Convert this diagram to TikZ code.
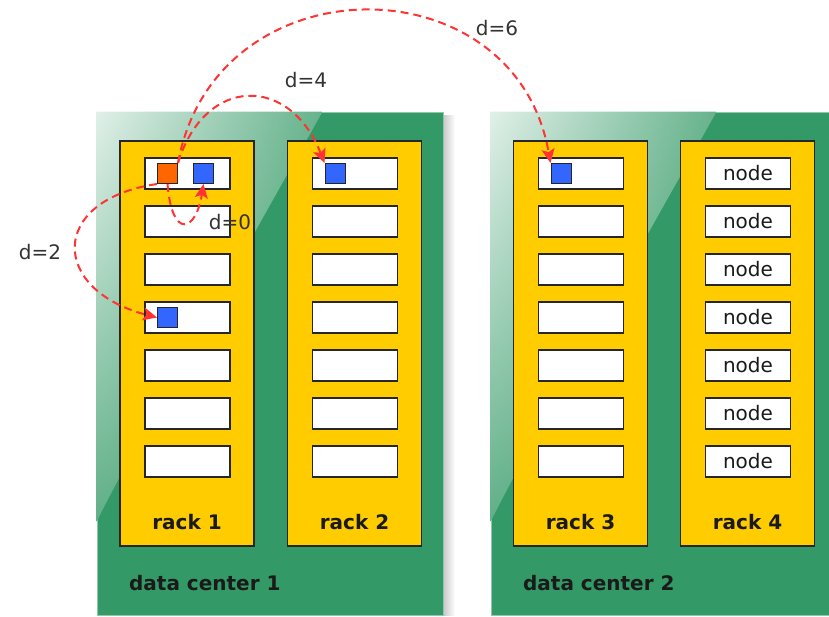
\documentclass[tikz,border=0pt]{standalone}
\usepackage{fontspec}
\setmainfont{DejaVu Sans}
\usetikzlibrary{arrows.meta,shadings}

\definecolor{dcgreen}{RGB}{51,153,102}
\definecolor{rackyellow}{RGB}{255,204,0}
\definecolor{srcorange}{RGB}{255,102,0}
\definecolor{dstblue}{RGB}{51,102,255}
\definecolor{hopred}{RGB}{255,51,51}
\definecolor{txtdark}{RGB}{26,26,26}

\tikzset{
 dc/.style={draw=dcgreen!55!white, line width=0.8pt, fill=dcgreen, minimum width=346pt, minimum height=503pt, inner sep=0pt},
 rack/.style={draw=black!85, line width=1.5pt, fill=rackyellow, minimum width=134pt, minimum height=405pt, inner sep=0pt},
 srv/.style={draw=black!85, line width=1.5pt, fill=white, minimum width=85pt, minimum height=31pt, inner sep=0pt, font=\fontsize{20}{24}\selectfont, text=txtdark},
 chip/.style={draw=black!85, line width=1pt, minimum size=20pt, inner sep=0pt},
 hop/.style={draw=hopred, line width=2pt, dash pattern=on 8pt off 5pt, -{Stealth[length=14pt,width=13pt,inset=3pt]}},
 hoplbl/.style={font=\fontsize{20}{24}\selectfont, text=black!80},
 racklbl/.style={font=\bfseries\fontsize{20}{24}\selectfont, text=txtdark},
}

\begin{document}
\begin{tikzpicture}[x=1pt, y=-1pt]
 \useasboundingbox (0,0) rectangle (829,617);

 % les deux data centers
 \shade[left color=black!22, right color=white] (443,116) rectangle (455,615); % ombre
 \node[dc] (dc1) at (270,363.5) {};
 \node[dc, minimum width=344pt] (dc2) at (663,363.5) {};

 % le reflet en haut a gauche
 \foreach \dcname in {dc1,dc2}{
  \begin{scope}
   \clip (\dcname.north west) -- ([xshift=226pt]\dcname.north west)
     .. controls ([xshift=168pt, yshift=-103pt]\dcname.north west) and ([xshift=40pt, yshift=-330pt]\dcname.north west)
     .. ([yshift=-410pt]\dcname.north west) -- cycle;
   \shade[upper left=white!85!dcgreen, upper right=dcgreen!75!white, lower left=dcgreen!78!white, lower right=dcgreen]
     (\dcname.north west) rectangle ([xshift=226pt, yshift=-410pt]\dcname.north west);
  \end{scope}
 }
 \node[racklbl, anchor=west] at ([xshift=29pt, yshift=32pt]dc1.south west) {data center 1};
 \node[racklbl, anchor=west] at ([xshift=29pt, yshift=32pt]dc2.south west) {data center 2};

 % les racks et leurs machines
 \foreach \r/\x/\txt in {1/187/{},2/354.5/{},3/580.5/{},4/747.5/node}{
  \node[rack] (rack\r) at (\x,343.5) {};
  \node[racklbl] at ([yshift=25pt]rack\r.south) {rack \r};
  \foreach \s in {1,...,7}
   \node[srv] (srv\r-\s) at (\x+0.5,125.5+48*\s) {\txt};
 }

 % la source et les destinations
 \node[chip, fill=srcorange] (src) at ([xshift=-20pt]srv1-1) {};
 \node[chip, fill=dstblue] (dst0) at ([xshift=16pt]srv1-1) {};
 \node[chip, fill=dstblue] (dst2) at ([xshift=-20pt]srv1-4) {};
 \node[chip, fill=dstblue] (dst4) at ([xshift=-20pt]srv2-1) {};
 \node[chip, fill=dstblue] (dst6) at ([xshift=-20pt]srv3-1) {};

 % les distances
 \draw[hop] (src.south) .. controls (172,240) and (196,232) .. (dst0.south);
 \draw[hop] (src.south west) .. controls (48,200) and (50,290) .. (dst2.west);
 \draw[hop] (src.north east) .. controls (205,75) and (290,75) .. (dst4.north west);
 \draw[hop] (src.north east) .. controls (215,-40) and (515,-40) .. (dst6.north west);

 \node[hoplbl] (d0) at (230,222) {d=0};
 \node[hoplbl] (d2) at (40,252) {d=2};
 \node[hoplbl] (d4) at (306,80) {d=4};
 \node[hoplbl] (d6) at (497,28) {d=6};
\end{tikzpicture}
\end{document}
